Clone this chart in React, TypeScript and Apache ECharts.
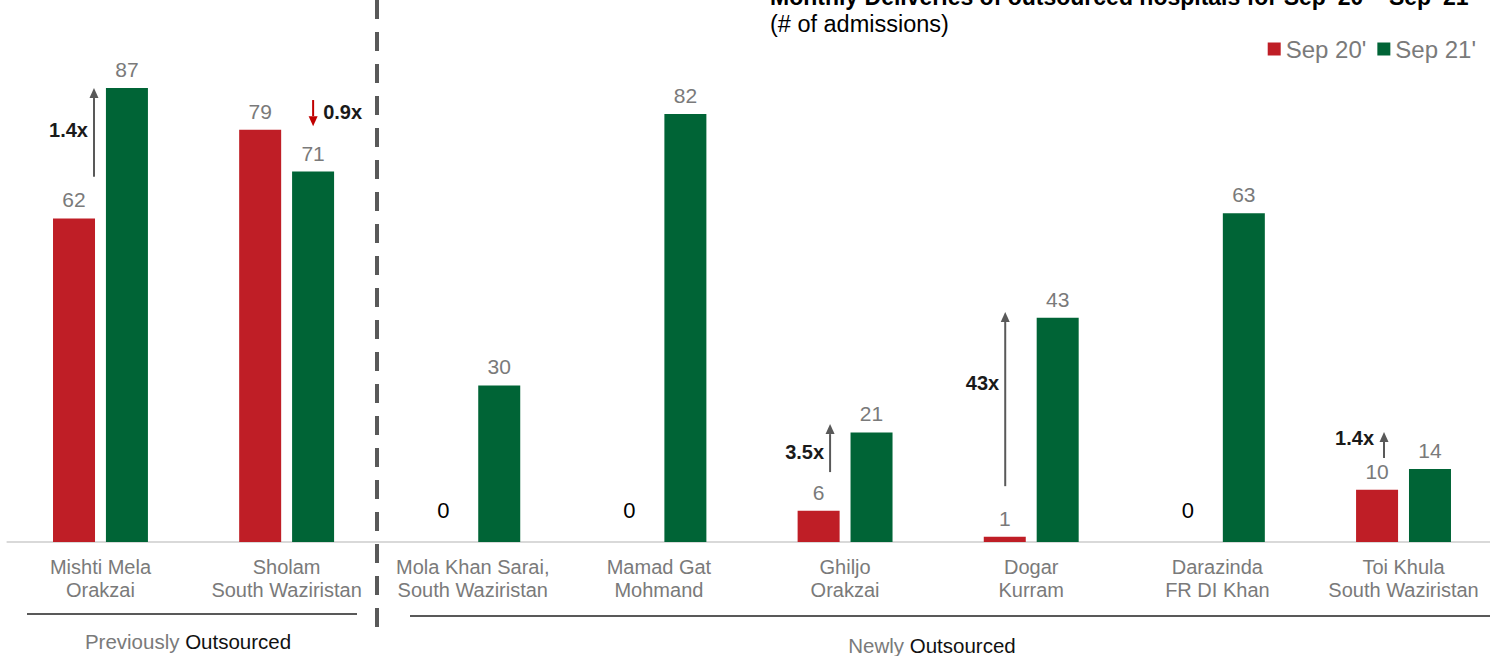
import React, { useEffect, useRef } from "react";
import * as echarts from "echarts";

const categories = [
  "Mishti Mela\nOrakzai",
  "Sholam\nSouth Waziristan",
  "Mola Khan Sarai,\nSouth Waziristan",
  "Mamad Gat\nMohmand",
  "Ghiljo\nOrakzai",
  "Dogar\nKurram",
  "Darazinda\nFR DI Khan",
  "Toi Khula\nSouth Waziristan",
];
const seriesNames = ["Sep 20'", "Sep 21'"];
const sep20 = [62, 79, 0, 0, 6, 1, 0, 10];
const sep21 = [87, 71, 30, 82, 21, 43, 63, 14];

// growth annotations: category index, label, arrow start/end (data units)
const growthCats = [0, 1, 4, 5, 7];
const growthLabels = ["1.4x", "0.9x", "3.5x", "43x", "1.4x"];
const growthFrom = [70, 84.7, 13.4, 10.7, 16.1];
const growthTo = [87, 79.7, 22.6, 44.1, 21.1];

const titleText = "Monthly Deliveries of outsourced hospitals for Sep '20 – Sep '21'";
const subtitleText = "(# of admissions)";
const groupLabels = ["Previously", "Newly"];

const RED = "#BF1E26";
const GREEN = "#006436";
const GRAY_TEXT = "#7a7a7a";
const DARK = "#595959";
const FONT = "'Liberation Sans', Arial, sans-serif";

// style-only offsets for annotations (pixels)
const arrowDx = [-6.5, 26.5, -15, -26, -19.5];
const labelSide = ["left", "right", "left", "left", "left"];
const labelYVal = [79, 82.5, 17.2, 30.5, 19.9];

const CHART_W = 1500;

export default function App() {
  const ref = useRef<HTMLDivElement>(null);
  useEffect(() => {
    if (!ref.current) return;
    const chart = echarts.init(ref.current, null, { renderer: "svg" });
    const zeroLabel = {
      show: true,
      position: "top",
      distance: 21,
      color: "#000",
      fontSize: 22,
      fontFamily: FONT,
      offset: [-3, 0],
    };
    const valueLabel = {
      show: true,
      position: "top",
      distance: 8,
      color: GRAY_TEXT,
      fontSize: 21,
      fontFamily: FONT,
    };
    const option: any = {
      animation: false,
      grid: { left: 7.4, right: CHART_W - 1496.6, top: 20.2, bottom: 114, containLabel: false },
      legend: {
        right: CHART_W - 1481,
        top: 32,
        itemWidth: 13,
        itemHeight: 13,
        itemGap: 11,
        icon: "rect",
        textStyle: { fontSize: 24, color: GRAY_TEXT, fontFamily: FONT },
        data: seriesNames,
      },
      xAxis: {
        type: "category",
        data: categories,
        axisLine: { lineStyle: { color: "#d9d9d9", width: 2 } },
        axisTick: { show: false },
        axisLabel: {
          interval: 0,
          color: GRAY_TEXT,
          fontSize: 20,
          lineHeight: 23,
          margin: 13,
          fontFamily: FONT,
        },
      },
      yAxis: {
        type: "value",
        min: 0,
        max: 100,
        show: false,
        splitLine: { show: false },
      },
      series: [
        {
          name: seriesNames[0],
          type: "bar",
          barWidth: 42,
          barGap: "26%",
          itemStyle: { color: RED },
          label: valueLabel,
          data: sep20.map((v) => (v === 0 ? { value: v, label: zeroLabel } : v)),
        },
        {
          name: seriesNames[1],
          type: "bar",
          barWidth: 42,
          itemStyle: { color: GREEN },
          label: valueLabel,
          data: sep21,
        },
      ],
    };
    chart.setOption(option);

    const g: any[] = [];
    g.push({
      type: "text",
      left: 770,
      top: -15,
      style: { text: titleText, font: `bold 23px ${FONT}`, fill: "#000" },
    });
    g.push({
      type: "text",
      left: 770,
      top: 12,
      style: { text: subtitleText, font: `23.5px ${FONT}`, fill: "#000" },
    });
    g.push({
      type: "line",
      shape: { x1: 377, y1: 0, x2: 377, y2: 636 },
      style: { stroke: DARK, lineWidth: 4, lineDash: [19, 13] },
    });
    g.push({
      type: "line",
      shape: { x1: 27, y1: 614, x2: 357, y2: 614 },
      style: { stroke: DARK, lineWidth: 2 },
    });
    g.push({
      type: "line",
      shape: { x1: 410, y1: 616, x2: 1490, y2: 616 },
      style: { stroke: DARK, lineWidth: 2 },
    });
    const groupRich = {
      a: { fontSize: 20.5, fontFamily: FONT, fill: GRAY_TEXT, color: GRAY_TEXT },
      b: { fontSize: 20.5, fontFamily: FONT, fill: "#111", color: "#111" },
    };
    g.push({
      type: "text",
      x: 188,
      y: 641,
      style: {
        text: `{a|${groupLabels[0]} }{b|Outsourced}`,
        align: "center",
        verticalAlign: "middle",
        rich: groupRich,
      },
    });
    g.push({
      type: "text",
      x: 932,
      y: 645,
      style: {
        text: `{a|${groupLabels[1]} }{b|Outsourced}`,
        align: "center",
        verticalAlign: "middle",
        rich: groupRich,
      },
    });

    growthCats.forEach((cat, i) => {
      const p1 = chart.convertToPixel({ gridIndex: 0 }, [cat, growthFrom[i]]) as number[];
      const p2 = chart.convertToPixel({ gridIndex: 0 }, [cat, growthTo[i]]) as number[];
      const pl = chart.convertToPixel({ gridIndex: 0 }, [cat, labelYVal[i]]) as number[];
      const x = p1[0] + arrowDx[i];
      const yFrom = p1[1];
      const yTo = p2[1];
      const up = yTo < yFrom;
      const color = up ? DARK : "#C00000";
      const head = 10;
      const yHeadBase = up ? yTo + head : yTo - head;
      g.push({
        type: "line",
        shape: { x1: x, y1: yFrom, x2: x, y2: yHeadBase },
        style: { stroke: color, lineWidth: 2 },
      });
      g.push({
        type: "polygon",
        shape: { points: [[x - 4.5, yHeadBase], [x + 4.5, yHeadBase], [x, yTo]] },
        style: { fill: color },
      });
      const left = labelSide[i] === "left";
      g.push({
        type: "text",
        x: left ? x - (i === 4 ? 10 : 6) : x + 10,
        y: pl[1],
        style: {
          text: growthLabels[i],
          font: `bold 20px ${FONT}`,
          fill: "#1a1a1a",
          align: left ? "right" : "left",
          verticalAlign: "middle",
        },
      });
    });
    chart.setOption({ graphic: g });
    return () => chart.dispose();
  }, []);
  return (
    <div
      style={{
        position: "absolute",
        left: 0,
        top: 0,
        width: 1490,
        height: 656,
        overflow: "hidden",
      }}
    >
      <div ref={ref} style={{ width: CHART_W, height: 656 }} />
    </div>
  );
}
